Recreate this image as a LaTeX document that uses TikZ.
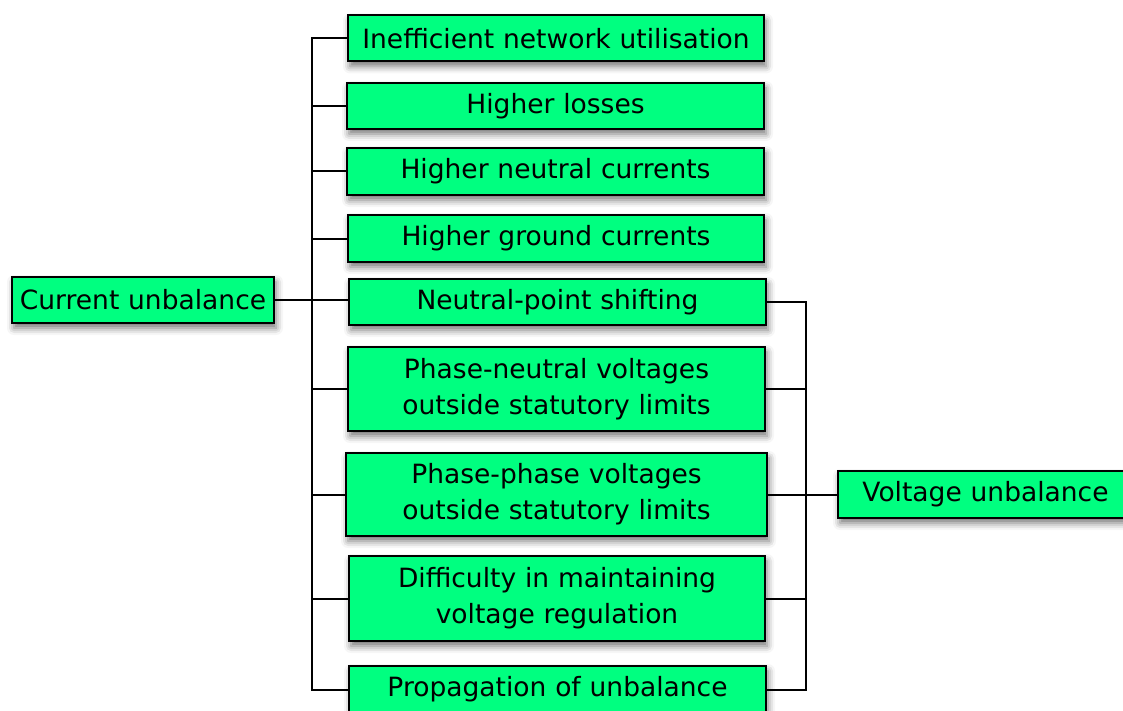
\documentclass[tikz,border=0pt]{standalone}
\usepackage{fontspec}
\setmainfont{DejaVu Sans}
\usetikzlibrary{shadows.blur}
\definecolor{boxgreen}{RGB}{0,255,128}
\tikzset{
  effect/.style={draw=black, line width=2pt, fill=boxgreen, inner sep=0pt,
    align=center, text width=#1, minimum height=46pt,
    blur shadow={shadow xshift=2pt, shadow yshift=-5pt, shadow blur radius=7pt, shadow opacity=55},
    font=\fontsize{26.5}{36}\selectfont},
  effect/.default=416pt,
  link/.style={line width=2pt, line cap=rect}
}
\begin{document}
\begin{tikzpicture}[x=1pt,y=-1pt]
\useasboundingbox (0,0) rectangle (1123,711);
\clip (0,0) rectangle (1123,711);
% bus positions
\coordinate (lbus) at (312,0);
\coordinate (rbus) at (806,0);
% effect boxes
\node[effect] (b1) at (556,38.5) {Inefficient network utilisation};
\node[effect=417pt] (b2) at (555.5,106) {Higher losses};
\node[effect=417pt, minimum height=47pt] (b3) at (555.5,171.5) {Higher neutral currents};
\node[effect, minimum height=47pt] (b4) at (556,238.5) {Higher ground currents};
\node[effect=417pt] (b5) at (557.5,302) {Neutral-point shifting};
\node[effect=417pt, minimum height=84pt] (b6) at (556.5,389) {Phase-neutral voltages\\outside statutory limits};
\node[effect=421pt, minimum height=83pt] (b7) at (556.5,494.5) {Phase-phase voltages\\outside statutory limits};
\node[effect, minimum height=85pt] (b8) at (557,598.5) {Difficulty in maintaining\\voltage regulation};
\node[effect=417pt, minimum height=47pt] (b9) at (557.5,689.5) {Propagation of unbalance};
% causes
\node[effect=262pt] (cu) at (143,300) {Current unbalance};
\node[effect=295pt, minimum height=47pt] (vu) at (985.5,494.5) {Voltage unbalance};
% left tree
\draw[link] (b1.west -| lbus) -- (b9.west -| lbus);
\foreach \b in {b1,b2,b3,b4,b6,b7,b8,b9}
  \draw[link] (\b.west) -- (\b.west -| lbus);
\draw[link] (cu.east) -- (cu.east -| b5.west);
% right tree
\draw[link] (b5.east -| rbus) -- (b9.east -| rbus);
\foreach \b in {b5,b6,b8,b9}
  \draw[link] (\b.east) -- (\b.east -| rbus);
\draw[link] (b7.east) -- (vu.west);
\end{tikzpicture}
\end{document}
